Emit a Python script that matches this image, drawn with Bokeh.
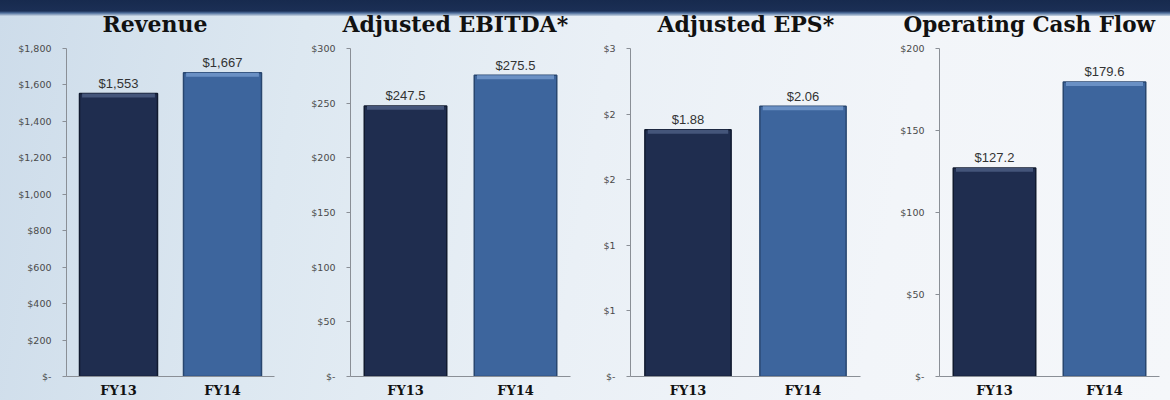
from bokeh.plotting import figure
from bokeh.models import Range1d, FactorRange, FixedTicker, Title, ColumnDataSource
from bokeh.layouts import row
from bokeh.core.properties import value
from bokeh.embed import file_html
from bokeh.resources import INLINE

# ---- data ----
categories = ["FY13", "FY14"]

revenue = [1553, 1667]
revenue_labels = ["$1,553", "$1,667"]
revenue_ticks = [0, 200, 400, 600, 800, 1000, 1200, 1400, 1600, 1800]
revenue_tick_labels = ["$-", "$200", "$400", "$600", "$800", "$1,000", "$1,200", "$1,400", "$1,600", "$1,800"]

ebitda = [247.5, 275.5]
ebitda_labels = ["$247.5", "$275.5"]
ebitda_ticks = [0, 50, 100, 150, 200, 250, 300]
ebitda_tick_labels = ["$-", "$50", "$100", "$150", "$200", "$250", "$300"]

eps = [1.88, 2.06]
eps_labels = ["$1.88", "$2.06"]
eps_ticks = [0, 0.5, 1.0, 1.5, 2.0, 2.5]
eps_tick_labels = ["$-", "$1", "$1", "$2", "$2", "$3"]

ocf = [127.2, 179.6]
ocf_labels = ["$127.2", "$179.6"]
ocf_ticks = [0, 50, 100, 150, 200]
ocf_tick_labels = ["$-", "$50", "$100", "$150", "$200"]

titles = ["Revenue", "Adjusted EBITDA*", "Adjusted EPS*", "Operating Cash Flow"]

bar_colors = ["#1f2d4f", "#3d659d"]
bar_lines = ["#101a2f", "#28466f"]
highlight_colors = ["#44557a", "#6a90c4"]


def panel(title, vals, labels, ticks, tick_labels, width, bl, br, title_dx, title_size):
    ymax = ticks[-1]
    p = figure(width=width, height=400, x_range=FactorRange(*categories),
               y_range=Range1d(0, ymax), output_backend="svg",
               toolbar_location=None, min_border_left=bl, min_border_right=br,
               min_border_top=0, min_border_bottom=23)
    p.background_fill_alpha = 0
    p.border_fill_alpha = 0
    p.outline_line_color = None
    p.xgrid.visible = False
    p.ygrid.visible = False

    src = ColumnDataSource(dict(x=categories, top=vals, lab=labels,
                                fill=bar_colors, line=bar_lines, hl=highlight_colors,
                                hlb=[v - ymax * 0.012 for v in vals]))
    p.vbar(x="x", top="top", bottom=0, width=0.75, source=src,
           fill_color="fill", line_color="line", line_width=1.5)
    p.vbar(x="x", top="top", bottom="hlb", width=0.70, source=src,
           fill_color="hl", line_color=None)
    p.text(x="x", y="top", text="lab", source=src, y_offset=-10,
           text_align="center", text_baseline="alphabetic",
           text_font=value("Liberation Sans"), text_font_size="13px", text_color="#333333")

    ya = p.yaxis[0]
    ya.ticker = FixedTicker(ticks=ticks)
    ya.major_label_overrides = {t: l for t, l in zip(ticks, tick_labels)}
    ya.axis_line_color = "#8a8f96"
    ya.major_tick_line_color = "#8a8f96"
    ya.major_tick_out = 4
    ya.major_tick_in = 0
    ya.minor_tick_line_color = None
    ya.major_label_standoff = 11
    ya.major_label_text_font = "DejaVu Sans"
    ya.major_label_text_font_size = "9.5px"
    ya.major_label_text_color = "#4a4a4a"

    xa = p.xaxis[0]
    xa.axis_line_color = "#8a8f96"
    xa.major_tick_line_color = None
    xa.major_tick_out = 0
    xa.major_tick_in = 0
    xa.major_label_standoff = 6
    xa.major_label_text_font = "DejaVu Serif"
    xa.major_label_text_font_style = "bold"
    xa.major_label_text_font_size = "13px"
    xa.major_label_text_color = "#111111"

    # invisible spacer panel between the frame and the title
    p.add_layout(Title(text=".", text_font_size="1px", text_alpha=0, standoff=2), "above")
    p.add_layout(Title(text=title, align="left", offset=title_dx, standoff=20,
                       vertical_align="top",
                       text_font="DejaVu Serif", text_font_style="bold",
                       text_font_size=title_size, text_color="#111111"), "above")
    return p


p1 = panel(titles[0], revenue, revenue_labels, revenue_ticks, revenue_tick_labels, 290, 66, 16, 36, "22px")
p2 = panel(titles[1], ebitda, ebitda_labels, ebitda_ticks, ebitda_tick_labels, 290, 60, 10, -8, "22px")
p3 = panel(titles[2], eps, eps_labels, eps_ticks, eps_tick_labels, 290, 50, 10, 27, "22px")
p4 = panel(titles[3], ocf, ocf_labels, ocf_ticks, ocf_tick_labels, 300, 69, 11, -36, "21.5px")

bg = ("linear-gradient(to bottom, #172a4e 0px, #1b2f55 11px, #4f6f9c 13px, #c9d6e4 16px, rgba(0,0,0,0) 16px), "
      "linear-gradient(100deg, #cddcea 0%, #dde8f1 25%, #eaf0f6 50%, #f2f5f9 75%, #f5f7fa 100%)")
layout = row(p1, p2, p3, p4, spacing=0, width=1170, height=400, styles={"background": bg})

open("out.html", "w").write(file_html(layout, INLINE))
